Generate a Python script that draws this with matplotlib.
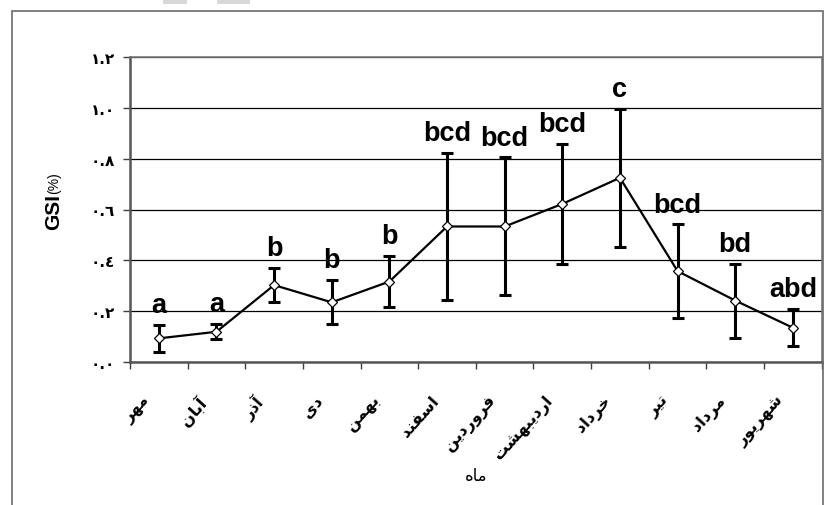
import matplotlib
matplotlib.use("Agg")
import matplotlib.pyplot as plt
from matplotlib.patches import Rectangle
import numpy as np

months = ["مهر", "آبان", "آذر", "دی", "بهمن", "اسفند",
          "فروردین", "اردیبهشت", "خرداد", "تیر", "مرداد", "شهریور"]
gsi = [0.092, 0.118, 0.302, 0.234, 0.316, 0.533,
       0.533, 0.622, 0.725, 0.357, 0.241, 0.134]
err = [0.052, 0.030, 0.066, 0.087, 0.101, 0.290,
       0.272, 0.238, 0.272, 0.184, 0.146, 0.074]
groups = ["a", "a", "b", "b", "b", "bcd",
          "bcd", "bcd", "c", "bcd", "bd", "abd"]
yticks = [0.0, 0.2, 0.4, 0.6, 0.8, 1.0, 1.2]
ytick_labels = ["٠.٠", "٠.٢", "٠.٤", "٠.٦", "٠.٨", "١.٠", "١.٢"]
xlabel = "ماه"
ylabel = "GSI"

# matplotlib has no arabic shaping, so pick presentation forms by hand
FORMS = {
    "ا": ("\uFE8D", "\uFE8E", None, None),
    "آ": ("\uFE81", "\uFE82", None, None),
    "ب": ("\uFE8F", "\uFE90", "\uFE91", "\uFE92"),
    "ت": ("\uFE95", "\uFE96", "\uFE97", "\uFE98"),
    "خ": ("\uFEA5", "\uFEA6", "\uFEA7", "\uFEA8"),
    "د": ("\uFEA9", "\uFEAA", None, None),
    "ذ": ("\uFEAB", "\uFEAC", None, None),
    "ر": ("\uFEAD", "\uFEAE", None, None),
    "س": ("\uFEB1", "\uFEB2", "\uFEB3", "\uFEB4"),
    "ش": ("\uFEB5", "\uFEB6", "\uFEB7", "\uFEB8"),
    "ف": ("\uFED1", "\uFED2", "\uFED3", "\uFED4"),
    "م": ("\uFEE1", "\uFEE2", "\uFEE3", "\uFEE4"),
    "ن": ("\uFEE5", "\uFEE6", "\uFEE7", "\uFEE8"),
    "ه": ("\uFEE9", "\uFEEA", "\uFEEB", "\uFEEC"),
    "و": ("\uFEED", "\uFEEE", None, None),
    "ی": ("\uFBFC", "\uFBFD", "\uFBFE", "\uFBFF"),
}

def shape(word):
    out = []
    n = len(word)
    for i, ch in enumerate(word):
        f = FORMS[ch]
        prev = i > 0 and FORMS[word[i - 1]][2] is not None
        nxt = i < n - 1 and f[2] is not None
        if prev and nxt:
            out.append(f[3])
        elif prev:
            out.append(f[1])
        elif nxt:
            out.append(f[2])
        else:
            out.append(f[0])
    return "".join(reversed(out))

fig = plt.figure(figsize=(8.24, 5.06), dpi=100)
W, H = 824, 506

# outer frame of the pasted chart
fig.patches.append(Rectangle((12 / W, -0.05), (822.5 - 12) / W, 1.05 - 12 / H,
                             transform=fig.transFigure, fill=False,
                             ec="#6a6a6a", lw=1.2))
for x0, x1 in [(163, 187), (217, 250)]:
    fig.patches.append(Rectangle((x0 / W, 1 - 5 / H), (x1 - x0) / W, 5 / H,
                                 transform=fig.transFigure, fc="#d8d8d8", ec="none"))

ax = fig.add_axes([130 / W, 1 - 362.7 / H, (821.7 - 130) / W, (362.7 - 58.3) / H])

x = np.arange(len(months)) + 0.5
ax.errorbar(x, gsi, yerr=err, fmt="none", ecolor="black", elinewidth=2.2,
            capsize=4.3, capthick=2.2, zorder=3)
ax.plot(x, gsi, color="black", lw=1.6, marker="D", markersize=5,
        markerfacecolor="white", markeredgecolor="black", markeredgewidth=0.9,
        zorder=4)

for xi, yi, ei, g in zip(x, gsi, err, groups):
    ax.annotate(g, (xi, yi + ei), xytext=(0, 5), textcoords="offset points",
                ha="center", va="bottom", fontsize=19.5, fontweight="bold",
                family="Liberation Sans", zorder=5)

ax.set_xlim(0, len(months))
ax.set_ylim(0, 1.2)
ax.set_yticks(yticks)
ax.set_yticklabels(ytick_labels, fontsize=11, fontweight="bold", family="DejaVu Sans")
ax.yaxis.grid(True, color="black", lw=0.9)
ax.set_axisbelow(True)

ax.set_xticks(np.arange(len(months) + 1))
ax.set_xticklabels([])
ax.set_xticks(x, minor=True)
ax.set_xticklabels([shape(m) for m in months], minor=True, rotation=48,
                   ha="right", va="top", fontsize=11.5, fontweight="bold",
                   family="DejaVu Sans")
ax.tick_params(axis="x", which="minor", length=0, pad=22)
ax.tick_params(axis="x", which="major", length=5, width=1, color="#404040")
ax.tick_params(axis="y", length=5, width=1, color="#404040", pad=6)
for lbl in ax.get_xticklabels(minor=True):
    lbl.set_transform(lbl.get_transform() +
                      matplotlib.transforms.ScaledTranslation(-6 / 100, 0, fig.dpi_scale_trans))

for s in ax.spines.values():
    s.set_color("#7a7a7a")
    s.set_linewidth(1.2)
ax.spines["left"].set_color("#555555")
ax.spines["left"].set_linewidth(1.8)
ax.spines["bottom"].set_color("#555555")
ax.spines["bottom"].set_linewidth(1.8)

fig.text(476 / W, 1 - 476 / H, shape(xlabel), ha="center", va="center",
         fontsize=12, family="DejaVu Sans")
fig.text(54 / W, 1 - 212 / H, ylabel, rotation=90, ha="center", va="center",
         fontsize=15, fontweight="bold", family="Liberation Sans")
fig.text(54 / W, 1 - 183 / H, "(%)", rotation=90, ha="center", va="center",
         fontsize=10, family="Liberation Sans")

fig.savefig("out.png", dpi=100)
